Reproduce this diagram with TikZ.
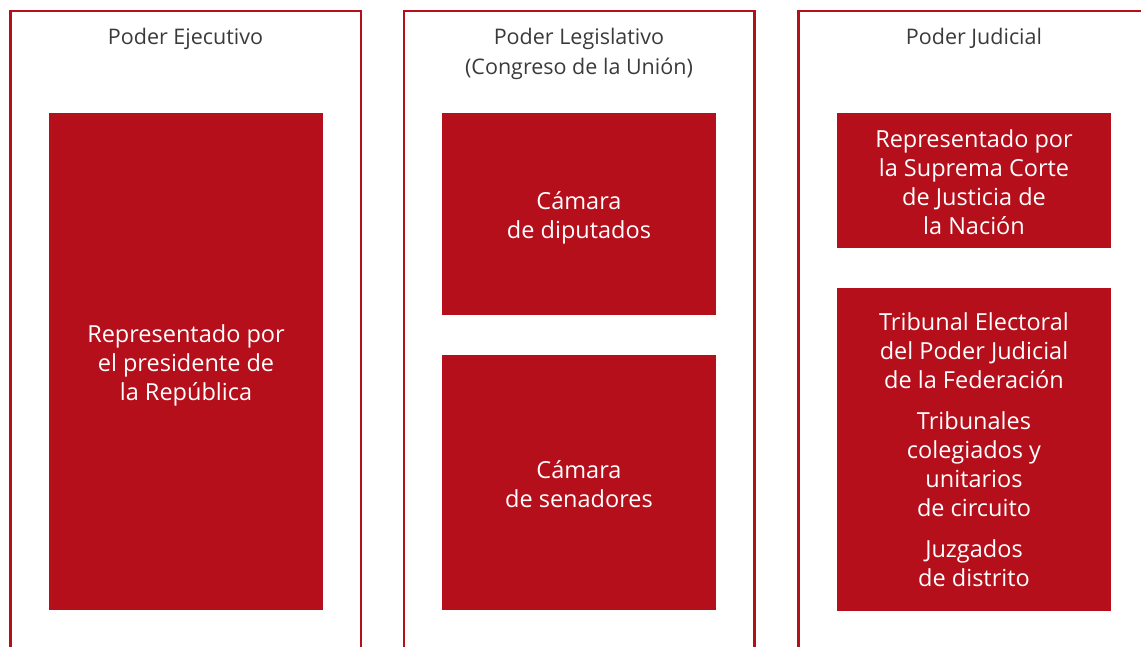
\documentclass[tikz,border=0pt]{standalone}
\usepackage{fontspec}
\setmainfont{Open Sans}
\definecolor{rojo}{HTML}{B50F1C}
\definecolor{gris}{HTML}{3A3A3A}
\begin{document}
\begin{tikzpicture}[x=1pt,y=-1pt,
  panel/.style={draw=rojo,line width=2.2pt},
  rbox/.style={fill=rojo,draw=none},
  ptitle/.style={text=gris,font=\fontsize{21.5}{30}\selectfont,align=center,inner sep=0pt},
  btext/.style={text=white,font=\fontsize{23.5}{29}\selectfont,align=center,inner sep=0pt}]
\useasboundingbox (0,0) rectangle (1141,646);
% panels
\draw[panel] (10.5,660) -- (10.5,11) -- (361,11) -- (361,660);
\draw[panel] (404,660) -- (404,11) -- (754.5,11) -- (754.5,660);
\draw[panel] (798.5,660) -- (798.5,11) -- (1160,11);
% titles
\node[ptitle] (t1) at (185.5,38.5) {Poder Ejecutivo};
\node[ptitle] (t2) at (579,53.5) {Poder Legislativo\\(Congreso de la Unión)};
\node[ptitle] (t3) at (974,38) {Poder Judicial};
% boxes
\fill[rbox] (49,113) rectangle (323,610);
\fill[rbox] (442,113) rectangle (716,315);
\fill[rbox] (442,355) rectangle (716,610);
\fill[rbox] (837,113) rectangle (1111,248);
\fill[rbox] (837,288) rectangle (1111,611);
\node[btext] (b1) at (186,365.5) {Representado por\\el presidente de\\la República};
\node[btext] (b2) at (579,217.5) {Cámara\\de diputados};
\node[btext] (b3) at (579,484.5) {Cámara\\de senadores};
\node[btext] (b4) at (974,182) {Representado por\\la Suprema Corte\\de Justicia de\\la Nación};
\node[btext] (b5) at (974,351) {Tribunal Electoral\\del Poder Judicial\\de la Federación};
\node[btext] (b6) at (974,464.5) {Tribunales\\colegiados y\\unitarios\\de circuito};
\node[btext] (b7) at (974,563.5) {Juzgados\\de distrito};
\end{tikzpicture}
\end{document}
